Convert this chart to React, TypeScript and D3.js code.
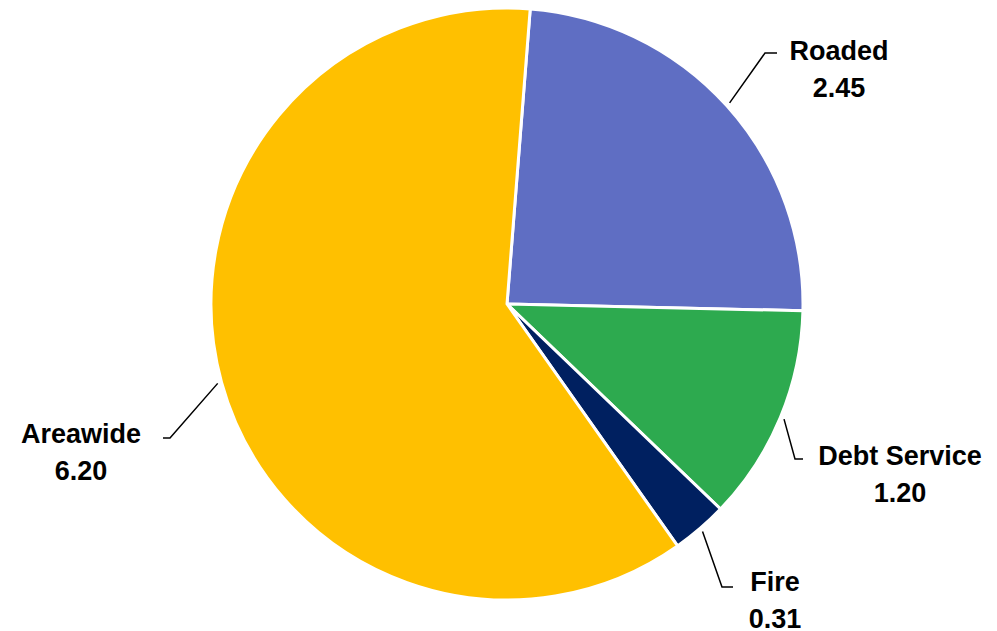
import React, { useEffect } from "react";
import * as d3 from "d3";

const categories = ["Roaded", "Debt Service", "Fire", "Areawide"];
const values = [2.45, 1.2, 0.31, 6.2];
const valueLabels = ["2.45", "1.20", "0.31", "6.20"];
const colors = ["#5F6EC3", "#2DAA4F", "#002060", "#FFC000"];

// layout (label anchor centre, elbow point, end of horizontal tail)
const labelPos = [
  { x: 839, y: 60, ex: 765, ey: 53, tx: 777 },
  { x: 900, y: 465, ex: 795, ey: 459, tx: 803 },
  { x: 775, y: 591, ex: 722, ey: 587, tx: 733 },
  { x: 81, y: 443, ex: 170, ey: 438, tx: 163 },
];

const W = 997;
const H = 631;
const CX = 507;
const CY = 304;
const R = 296;
const START = (4.5 * Math.PI) / 180;

export default function App() {
  useEffect(() => {
    document.body.style.margin = "0";
  }, []);

  const pie = d3
    .pie<number>()
    .sort(null)
    .startAngle(START)
    .endAngle(START + 2 * Math.PI)
    .value((d) => d);
  const arcs = pie(values);
  const arc = d3.arc<d3.PieArcDatum<number>>().innerRadius(0).outerRadius(R);

  return (
    <svg width={W} height={H} style={{ position: "absolute", left: 0, top: 0, display: "block" }}>
      <rect width={W} height={H} fill="#fff" />
      <g transform={`translate(${CX},${CY})`}>
        {arcs.map((a, i) => (
          <path key={i} d={arc(a) || ""} fill={colors[i]} stroke="#fff" strokeWidth={3} strokeLinejoin="round" />
        ))}
      </g>
      {arcs.map((a, i) => {
        const mid = (a.startAngle + a.endAngle) / 2;
        const sx = CX + Math.sin(mid) * (R + 4);
        const sy = CY - Math.cos(mid) * (R + 4);
        const p = labelPos[i];
        return (
          <polyline
            key={"l" + i}
            points={`${sx},${sy} ${p.ex},${p.ey} ${p.tx},${p.ey}`}
            fill="none"
            stroke="#000"
            strokeWidth={1.5}
          />
        );
      })}
      {categories.map((c, i) => {
        const p = labelPos[i];
        return (
          <text
            key={"t" + i}
            x={p.x}
            y={p.y}
            textAnchor="middle"
            fontFamily="'Liberation Sans', Arial, sans-serif"
            fontWeight="bold"
            fontSize={27}
            fill="#000"
          >
            <tspan x={p.x}>{c}</tspan>
            <tspan x={p.x} dy={37}>
              {valueLabels[i]}
            </tspan>
          </text>
        );
      })}
    </svg>
  );
}
